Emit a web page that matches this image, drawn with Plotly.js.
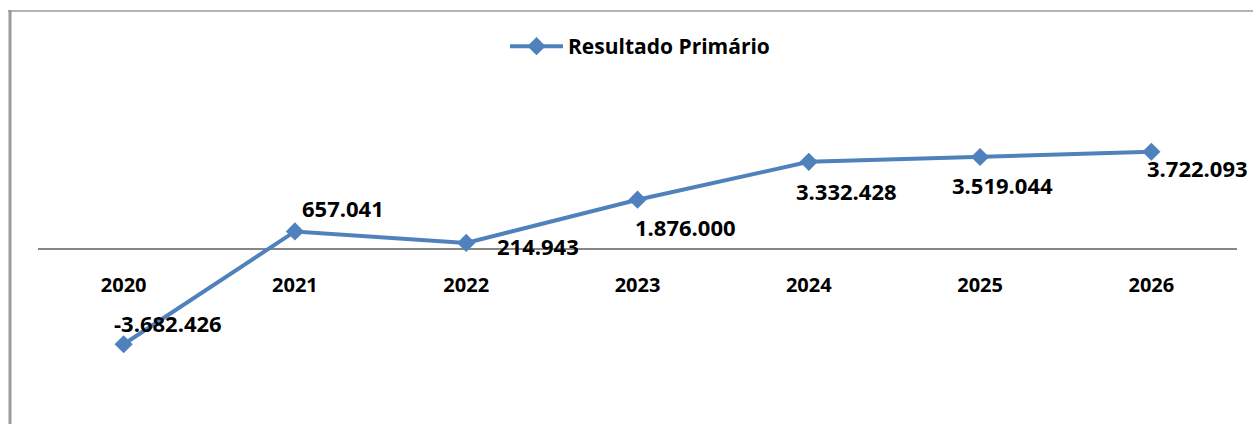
<!DOCTYPE html>
<html>
<head>
<meta charset="utf-8">
<script src="https://cdn.plot.ly/plotly-3.0.1.min.js"></script>
<style>html,body{margin:0;padding:0;background:#fff;}#chart{width:1253px;height:424px;}</style>
</head>
<body>
<div id="chart"></div>
<script>
// ---- data ----
const categories = ["2020", "2021", "2022", "2023", "2024", "2025", "2026"];
const resultadoPrimario = [-3682426, 657041, 214943, 1876000, 3332428, 3519044, 3722093];
const seriesName = "Resultado Primário";

// ---- label placement (pixel offsets from each point) ----
const labelShiftX = [44, 48, 72, 48, 38, 22, 99];
const labelShiftY = [21, 23, -3, -27, -29, -28, -16];
const labelAnchor = ["center", "center", "center", "center", "center", "center", "right"];

function fmt(v) {
  const s = Math.abs(v).toString().replace(/\B(?=(\d{3})+(?!\d))/g, ".");
  return (v < 0 ? "-" : "") + s;
}

const blue = "#4F81BD";
const W = 1253, H = 424;
const mL = 38, mR = 16, mT = 20, mB = 14;
const pw = W - mL - mR, ph = H - mT - mB;
const px2x = p => (p - mL) / pw;
const py2y = p => (H - mB - p) / ph;

const trace = {
  x: categories,
  y: resultadoPrimario,
  type: "scatter",
  mode: "lines+markers",
  name: seriesName,
  line: {color: blue, width: 4},
  marker: {symbol: "diamond", size: 14, color: blue, line: {width: 0}},
  hoverinfo: "skip"
};

const annotations = categories.map((c, i) => ({
  x: i, y: resultadoPrimario[i], xref: "x", yref: "y",
  text: fmt(resultadoPrimario[i]),
  showarrow: false,
  xanchor: labelAnchor[i], yanchor: "middle",
  xshift: labelShiftX[i], yshift: labelShiftY[i],
  font: {family: "Open Sans", size: 22, color: "#000", weight: 700}
}));

const zeroFrac = (H - mB - 248.5) / ph;

const layout = {
  width: W, height: H,
  margin: {l: mL, r: mR, t: mT, b: mB, pad: 0, autoexpand: false},
  paper_bgcolor: "#fff", plot_bgcolor: "rgba(0,0,0,0)",
  showlegend: true,
  legend: {
    xref: "container", yref: "container",
    x: 505 / W, xanchor: "left",
    y: 1 - 26 / H, yanchor: "top",
    orientation: "h",
    itemwidth: 53,
    font: {family: "Open Sans", size: 21, color: "#000", weight: 700},
    bgcolor: "rgba(0,0,0,0)"
  },
  xaxis: {
    type: "category",
    range: [-0.5, 6.5],
    anchor: "free", position: zeroFrac,
    showgrid: false, zeroline: false, showline: false,
    ticks: "", ticklabelstandoff: 22,
    tickfont: {family: "Open Sans", size: 20, color: "#000", weight: 700},
    fixedrange: true
  },
  yaxis: {
    range: [-(H - mB - 248.5) / 26 * 1e6, (248.5 - mT) / 26 * 1e6],
    showgrid: false, showline: false, showticklabels: false, ticks: "",
    zeroline: true, zerolinecolor: "#868686", zerolinewidth: 2,
    fixedrange: true
  },
  annotations: annotations,
  shapes: [
    {type: "line", xref: "paper", yref: "paper", layer: "below",
     x0: px2x(8), x1: px2x(1253), y0: py2y(11), y1: py2y(11),
     line: {color: "#b4b4b4", width: 2}},
    {type: "line", xref: "paper", yref: "paper", layer: "below",
     x0: px2x(10), x1: px2x(10), y0: py2y(10), y1: py2y(424),
     line: {color: "#9a9a9a", width: 3}}
  ]
};

Plotly.newPlot("chart", [trace], layout, {displayModeBar: false, staticPlot: true});
</script>
</body>
</html>
